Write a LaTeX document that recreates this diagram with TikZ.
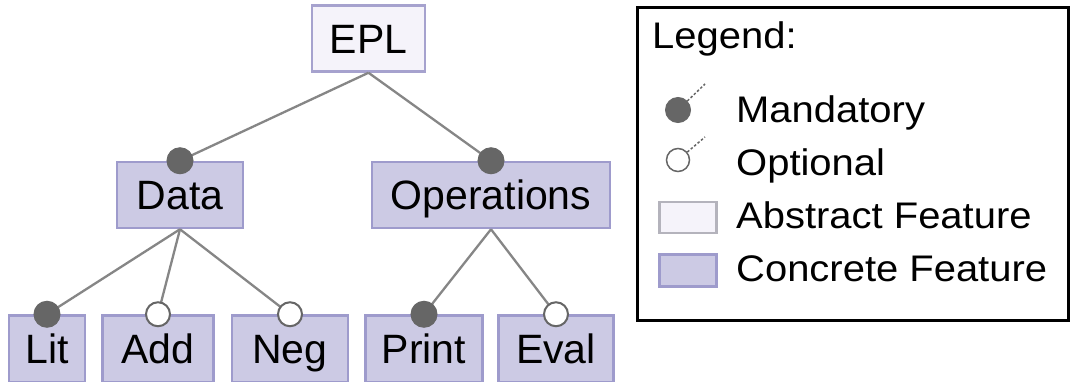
\documentclass[tikz,border=0pt]{standalone}
\usepackage{fontspec}
\setmainfont{Liberation Sans}
\newfontfamily\legfont[FakeStretch=1.08]{Liberation Sans}
\definecolor{concfill}{HTML}{CCCAE4}
\definecolor{concdraw}{HTML}{9E9BCC}
\definecolor{absfill}{HTML}{F5F3FA}
\definecolor{absdraw}{HTML}{A6A2CE}
\definecolor{absleg}{HTML}{B4B3BC}
\definecolor{conn}{HTML}{868686}
\definecolor{dot}{HTML}{666666}
\tikzset{
  feat/.style={rectangle, line width=2.5pt, inner sep=0pt, text height=29pt, text depth=0pt,
    font=\fontsize{41}{41}\selectfont, minimum height=66pt},
  concrete/.style={feat, fill=concfill, draw=concdraw},
  abstract/.style={feat, fill=absfill, draw=absdraw},
  edge/.style={draw=conn, line width=2.3pt},
  mand/.style={circle, fill=dot, draw=dot, line width=1pt, minimum size=26pt, inner sep=0pt},
  opt/.style={circle, fill=white, draw=dot, line width=2pt, minimum size=24pt, inner sep=0pt},
  legtext/.style={anchor=base west, inner sep=0pt, font=\legfont\fontsize{37}{37}\selectfont},
  stub/.style={draw=dot, line width=1.5pt, dash pattern=on 2.5pt off 2pt},
}
\begin{document}
\begin{tikzpicture}[x=1pt,y=-1pt]
\useasboundingbox (0,0) rectangle (1070,381);
\clip (0,0) rectangle (1070,381);
\fill[white] (0,0) rectangle (1070,381);
% feature boxes
\node[abstract, minimum width=113pt] (epl) at (368.5,38.5) {EPL};
\node[concrete, minimum width=126pt] (data) at (180,195) {Data};
\node[concrete, minimum width=238pt] (ops) at (491,195) {Operations};
\node[concrete, minimum width=76pt, minimum height=67pt] (lit) at (47,349) {Lit};
\node[concrete, minimum width=111pt, minimum height=67pt] (add) at (158,349) {Add};
\node[concrete, minimum width=116pt, minimum height=67pt] (neg) at (290,349) {Neg};
\node[concrete, minimum width=117pt, minimum height=67pt] (print) at (424,349) {Print};
\node[concrete, minimum width=115pt, minimum height=67pt] (eval) at (556,349) {Eval};
% connectors
\draw[edge] (epl.south) -- (data.north);
\draw[edge] (epl.south) -- (ops.north);
\draw[edge] (data.south) -- (lit.north);
\draw[edge] (data.south) -- (add.north);
\draw[edge] (data.south) -- (neg.north);
\draw[edge] (ops.south) -- (print.north);
\draw[edge] (ops.south) -- (eval.north);
% markers
\node[mand] (mdata) at (data.north) {};
\node[mand] (mops) at (ops.north) {};
\node[mand] (mlit) at (lit.north) {};
\node[opt] (oadd) at (add.north) {};
\node[opt] (oneg) at (neg.north) {};
\node[mand] (mprint) at (print.north) {};
\node[opt] (oeval) at (eval.north) {};
% legend
\node[draw=black, line width=3pt, minimum width=431pt, minimum height=313pt, inner sep=0pt] (legend) at (852.5,163.5) {};
\node[legtext] (legtitle) at (652,48) {Legend:};
\node[mand, minimum size=25pt] (lm) at (678,110) {};
\coordinate (lmend) at (705,84);
\draw[stub] (lm) -- (lmend);
\node[legtext] (lmt) at (736,122) {Mandatory};
\node[opt, line width=1.5pt, minimum size=23pt] (lo) at (678,160) {};
\coordinate (loend) at (705,137);
\draw[stub] (lo) -- (loend);
\node[legtext] (lot) at (736,175) {Optional};
\node[rectangle, fill=absfill, draw=absleg, line width=2.5pt, minimum width=57pt, minimum height=31pt, inner sep=0pt] (la) at (688,217.5) {};
\node[legtext] (lat) at (736,228) {Abstract Feature};
\node[rectangle, fill=concfill, draw=concdraw, line width=2.5pt, minimum width=57pt, minimum height=32pt, inner sep=0pt] (lc) at (688,270.5) {};
\node[legtext] (lct) at (736,281) {Concrete Feature};
\end{tikzpicture}
\end{document}
